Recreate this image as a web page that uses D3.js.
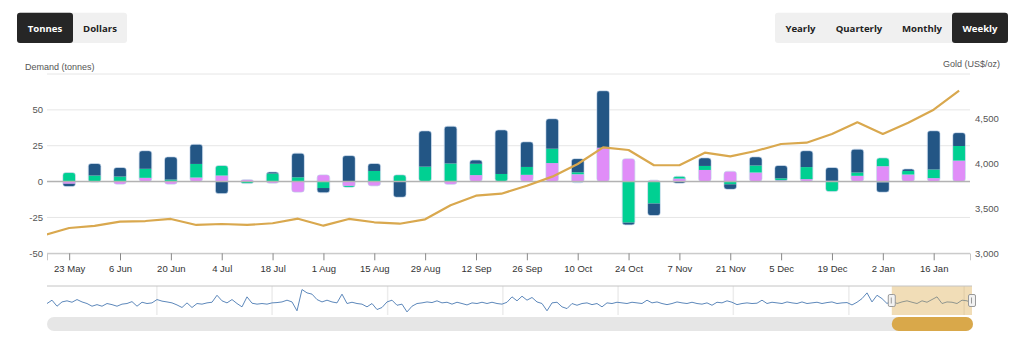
<!DOCTYPE html>
<html>
<head>
<meta charset="utf-8">
<script src="https://cdn.jsdelivr.net/npm/d3@7"></script>
<style>
  body { margin: 0; background: #fff; }
  svg { display: block; }
</style>
</head>
<body>
<div id="etf-flows-chart"></div>
<script>
// weekly dates (first one only feeds the gold line, it sits left of the plot)
var weeks = ["2025-05-16", "2025-05-23", "2025-05-30", "2025-06-06", "2025-06-13", "2025-06-20", "2025-06-27",
    "2025-07-04", "2025-07-11", "2025-07-18", "2025-07-25", "2025-08-01", "2025-08-08", "2025-08-15",
    "2025-08-22", "2025-08-29", "2025-09-05", "2025-09-12", "2025-09-19", "2025-09-26", "2025-10-03",
    "2025-10-10", "2025-10-17", "2025-10-24", "2025-10-31", "2025-11-07", "2025-11-14", "2025-11-21",
    "2025-11-28", "2025-12-05", "2025-12-12", "2025-12-19", "2025-12-26", "2026-01-02", "2026-01-09",
    "2026-01-16", "2026-01-23"];

var gold = [3201, 3282, 3305, 3353, 3360, 3383, 3316, 3327, 3316, 3335, 3386, 3308, 3383, 3346, 3330, 3379,
    3535, 3643, 3665, 3754, 3855, 3996, 4182, 4152, 3982, 3982, 4122, 4082, 4141, 4219, 4234, 4331, 4461,
    4331, 4457, 4602, 4814];

// tonnes, 23 May -> 23 Jan
var northAmerica = [-2, 8.4, 6.3, 12.6, 15.8, 13.7, -8.4, 0, 1.1, 16.8, -3.3, 18.1, 5.2, -10.9, 24.9, 26,
    2.6, 30.7, 17.5, 20.9, 9.5, 39.7, -1.6, -8.4, -1.2, 5.6, -3.5, 6, 8.9, 11.4, 9.3, 16.3, -6.9, 1.4, 27, 9.3];
var europe = [6.3, 4.2, 3.5, 6.3, 1.4, 9.5, 7, -1.4, 5.6, 3, -4.5, -1, 7.4, 4.7, 10.2, 12.6,
    7.9, 5.1, 5.5, 10, 1.4, 0, -28.6, -15.3, 1.6, 2.8, -1.9, 4.9, 1.4, 8.4, -7, 2.3, 5.8, 2.5, 6, 10.2];
var asia = [-1.5, -0.4, -1.9, 2.3, -1.9, 2.8, 4.2, 1.4, -1.2, -7.4, 4.7, -3, -3, 0, 0, -2,
    4.2, 0, 4.7, 12.6, 5.1, 23.3, 16, 1, 2.1, 8.1, 7.2, 6.3, 0.9, 1.4, 0.5, 4, 10.7, 4.9, 2.1, 14.2];
var other = [0, 0, 0, 0.3, 0, 0, 0, 0, 0, 0, 0, 0, 0, 0, 0.2, 0,
    0.3, 0.2, 0, 0.3, -0.8, 0.3, 0, 0, 0, 0, 0, 0, 0, 0.3, 0, 0, -0.5, 0, 0.3, 0.4];

var tickDates = ["2025-05-23", "2025-06-06", "2025-06-20", "2025-07-04", "2025-07-18", "2025-08-01",
    "2025-08-15", "2025-08-29", "2025-09-12", "2025-09-26", "2025-10-10", "2025-10-24", "2025-11-07",
    "2025-11-21", "2025-12-05", "2025-12-19", "2026-01-02", "2026-01-16"];
var tonneTicks = [-50, -25, 0, 25, 50, 75];
var goldTicks = [3000, 3500, 4000, 4500, 5000];

// navigator: total flows, evenly spaced samples Jan 2018 -> Jan 2026
var navRange = ["2018-01-18", "2026-01-26"];
var navTotals = [-4, 17, -21, 6, 13, 4, 21, 6, -4, -21, -11, -21, -4, -11, -21, -8, -4, 8, -21, 4, -4, 0, 21, 11,
    6, 0, -13, -29, 0, -29, -4, -8, 0, 4, 48, 13, 0, 21, -4, -25, 38, -2, -8, -4, -8, 0, 2, 6, 17, 6,
    -50, 84, 63, 55, 21, 6, 17, 6, 0, 55, -4, 4, -4, -8, -25, -4, -42, -29, 6, 17, -15, -8, -57, -21,
    -4, 0, 6, 2, 13, 0, 4, -8, 4, -4, -13, 0, -4, 4, -4, 4, -4, -8, 4, 38,
    13, 42, 17, 34, 6, -4, -50, 0, 4, -25, -36, -4, -15, -4, 0, -11, -4, -25, 0, -4, 4, 0, -4, 4, 0, -4,
    17, 0, 6, -4, -11, -4, 6, 0, -4, 4, -4, -8, 0, -15, 4, 0, 13, 4, -11, -4, 0, -4, -2, 17, -4, 4,
    0, -4, 6, 0, -4, 6, -4, 0, 4, -4, 2, 6, -4, 0, 2, -13, 4, 27, 63, 6, 48, 27, -4, 17, -4, 6, 13, 4,
    -4, 13, 4, 21, 38, -4, 6, 4, -4, 17, 13, -4];

var unitButtons = ["Tonnes", "Dollars"];
var periodButtons = ["Yearly", "Quarterly", "Monthly", "Weekly"];

var width = 1024, height = 353;
var plot = { left: 47, right: 970, top: 74, bottom: 253.3 };
var axisFont = "'Liberation Sans', Arial, sans-serif";
var btnFont = "'Open Sans', 'Liberation Sans', sans-serif";

var colors = { na: "#235685", europe: "#00d092", asia: "#e08df8", other: "#8fd0f5" };

var svg = d3.select("#etf-flows-chart")
    .append("svg")
    .attr("width", width)
    .attr("height", height);

var parse = d3.utcParse("%Y-%m-%d");
var dates = weeks.map(parse);
var barDates = dates.slice(1);

var x = d3.scaleUtc()
    .domain([new Date(+barDates[0] - 6.1 * 864e5), new Date(+barDates[barDates.length - 1] + 3 * 864e5)])
    .range([plot.left, plot.right]);

var y = d3.scaleLinear().domain([-50, 75]).range([plot.bottom, plot.top]);
var yGold = d3.scaleLinear().domain([3000, 5000]).range([plot.bottom, plot.top]);

// buttons
function buttonGroup(labels, x0, widths, active) {
    var g = svg.append("g");
    var total = d3.sum(widths);
    g.append("rect")
        .attr("x", x0).attr("y", 12.7)
        .attr("width", total).attr("height", 30.3)
        .attr("rx", 3).attr("fill", "#f0f0f0");
    var pos = x0;
    labels.forEach(function (l, i) {
        if (i == active) {
            g.append("rect")
                .attr("x", pos).attr("y", 12.7)
                .attr("width", widths[i]).attr("height", 30.3)
                .attr("rx", 3).attr("fill", "#262626");
        }
        g.append("text")
            .attr("x", pos + widths[i] / 2)
            .attr("y", 31.5)
            .attr("text-anchor", "middle")
            .attr("font-family", btnFont)
            .attr("font-weight", "bold")
            .attr("font-size", "9.6px")
            .attr("fill", i == active ? "#fff" : "#222")
            .text(l);
        pos += widths[i];
    });
}
buttonGroup(unitButtons, 17, [56, 54], 0);
buttonGroup(periodButtons, 775, [51, 66, 60, 56], 3);

// axis titles
svg.append("text")
    .attr("x", 25).attr("y", 70)
    .attr("font-family", axisFont).attr("font-size", "9px").attr("fill", "#555")
    .text("Demand (tonnes)");
svg.append("text")
    .attr("x", 1000).attr("y", 67)
    .attr("text-anchor", "end")
    .attr("font-family", axisFont).attr("font-size", "9px").attr("fill", "#555")
    .text("Gold (US$/oz)");

// grid
svg.append("g")
    .selectAll("line")
    .data(tonneTicks)
    .enter().append("line")
    .attr("x1", plot.left).attr("x2", plot.right)
    .attr("y1", function (d) { return y(d); })
    .attr("y2", function (d) { return y(d); })
    .attr("stroke", function (d) { return d == -50 ? "#c8c8c8" : "#e6e6e6"; })
    .attr("stroke-width", 1);

// left labels (top one hidden like the original)
svg.append("g")
    .selectAll("text")
    .data(tonneTicks.slice(0, -1))
    .enter().append("text")
    .attr("x", 43)
    .attr("y", function (d) { return y(d) + 3.5; })
    .attr("text-anchor", "end")
    .attr("font-family", axisFont).attr("font-size", "9.5px").attr("fill", "#555")
    .text(function (d) { return d; });

svg.append("g")
    .selectAll("text")
    .data(goldTicks.slice(0, -1))
    .enter().append("text")
    .attr("x", 975)
    .attr("y", function (d) { return yGold(d) + 3.5; })
    .attr("font-family", axisFont).attr("font-size", "9.5px").attr("fill", "#555")
    .text(function (d) { return d3.format(",")(d); });

// x axis
var xAxis = svg.append("g")
    .attr("transform", "translate(0," + plot.bottom + ")")
    .call(d3.axisBottom(x)
        .tickValues(tickDates.map(parse))
        .tickFormat(d3.utcFormat("%-d %b"))
        .tickSize(7)
        .tickPadding(5));
xAxis.select(".domain").attr("stroke", "#c8c8c8");
xAxis.selectAll(".tick line").attr("stroke", "#888");
xAxis.selectAll("text")
    .attr("font-family", axisFont).attr("font-size", "9.5px").attr("fill", "#333");

// stacked bars
var rows = barDates.map(function (d, i) {
    return { date: d, other: other[i], asia: asia[i], europe: europe[i], na: northAmerica[i] };
});
var keys = ["other", "asia", "europe", "na"];
var stacked = d3.stack().keys(keys).offset(d3.stackOffsetDiverging)(rows);
var barW = 12.7;

var defs = svg.append("defs");
defs.append("clipPath").attr("id", "plot-clip")
    .append("rect")
    .attr("x", plot.left).attr("y", plot.top - 20)
    .attr("width", plot.right - plot.left).attr("height", plot.bottom - plot.top + 20);

var bars = svg.append("g");
rows.forEach(function (r, i) {
    var lo = d3.min(stacked, function (s) { return Math.min(s[i][0], s[i][1]); });
    var hi = d3.max(stacked, function (s) { return Math.max(s[i][0], s[i][1]); });
    var bx = x(r.date) - barW / 2;
    defs.append("clipPath").attr("id", "bar-" + i)
        .append("rect")
        .attr("x", bx).attr("y", y(hi))
        .attr("width", barW).attr("height", y(lo) - y(hi))
        .attr("rx", 3);
    var g = bars.append("g").attr("clip-path", "url(#bar-" + i + ")");
    stacked.forEach(function (s) {
        var v0 = s[i][0], v1 = s[i][1];
        if (v0 == v1) return;
        g.append("rect")
            .attr("x", bx).attr("width", barW)
            .attr("y", y(Math.max(v0, v1)))
            .attr("height", Math.abs(y(v0) - y(v1)))
            .attr("fill", colors[s.key]);
    });
    bars.append("rect")
        .attr("x", bx).attr("y", y(hi))
        .attr("width", barW).attr("height", y(lo) - y(hi))
        .attr("rx", 3)
        .attr("fill", "none")
        .attr("stroke", "rgba(190,210,232,0.8)")
        .attr("stroke-width", 0.8);
});

// zero line
svg.append("line")
    .attr("x1", plot.left).attr("x2", plot.right)
    .attr("y1", y(0)).attr("y2", y(0))
    .attr("stroke", "#b2b2b2").attr("stroke-width", 1.5);

// gold line
var goldLine = d3.line()
    .x(function (d, i) { return x(dates[i]); })
    .y(function (d) { return yGold(d); });

svg.append("path")
    .datum(gold)
    .attr("clip-path", "url(#plot-clip)")
    .attr("fill", "none")
    .attr("stroke", "#d9a84e")
    .attr("stroke-width", 2.2)
    .attr("stroke-linejoin", "round")
    .attr("d", goldLine);

// navigator
var nav = { top: 286, bottom: 315 };
var navStart = parse(navRange[0]), navEnd = parse(navRange[1]);
var navX = d3.scaleUtc().domain([navStart, navEnd]).range([47, 972]);
var navY = d3.scaleLinear().domain([-70, 100]).range([314, 287]);

svg.append("g")
    .selectAll("line")
    .data(navX.ticks(d3.utcYear.every(1)))
    .enter().append("line")
    .attr("x1", function (d) { return navX(d); })
    .attr("x2", function (d) { return navX(d); })
    .attr("y1", nav.top).attr("y2", nav.bottom)
    .attr("stroke", "#ececec").attr("stroke-width", 1.5);

var navLine = d3.line()
    .x(function (d, i) { return navX(new Date(+navStart + i * (navEnd - navStart) / (navTotals.length - 1))); })
    .y(function (d) { return navY(d); });

svg.append("path")
    .datum(navTotals)
    .attr("fill", "none")
    .attr("stroke", "#5d88bb")
    .attr("stroke-width", 1)
    .attr("d", navLine);

var selX0 = navX(x.domain()[0]), selX1 = navX(x.domain()[1]);

svg.append("rect")
    .attr("x", selX0).attr("y", nav.top)
    .attr("width", selX1 - selX0).attr("height", nav.bottom - nav.top)
    .attr("fill", "#dba94b").attr("fill-opacity", 0.4);

svg.append("line")
    .attr("x1", plot.left).attr("x2", selX1)
    .attr("y1", nav.top).attr("y2", nav.top)
    .attr("stroke", "#c4c4c4").attr("stroke-width", 1);

[selX0, selX1].forEach(function (hx) {
    svg.append("rect")
        .attr("x", hx - 3.5).attr("y", 294.5)
        .attr("width", 7).attr("height", 12)
        .attr("rx", 1.5)
        .attr("fill", "#f2f2f2").attr("stroke", "#999").attr("stroke-width", 1);
    svg.append("line")
        .attr("x1", hx - 0.5).attr("x2", hx - 0.5)
        .attr("y1", 297.5).attr("y2", 303.5)
        .attr("stroke", "#999");
});

// scrollbar
svg.append("rect")
    .attr("x", plot.left).attr("y", 317)
    .attr("width", 973 - plot.left).attr("height", 14)
    .attr("rx", 7).attr("fill", "#e6e6e6");
svg.append("rect")
    .attr("x", selX0).attr("y", 317)
    .attr("width", 973 - selX0).attr("height", 14)
    .attr("rx", 7).attr("fill", "#d9a84a");
</script>
</body>
</html>
